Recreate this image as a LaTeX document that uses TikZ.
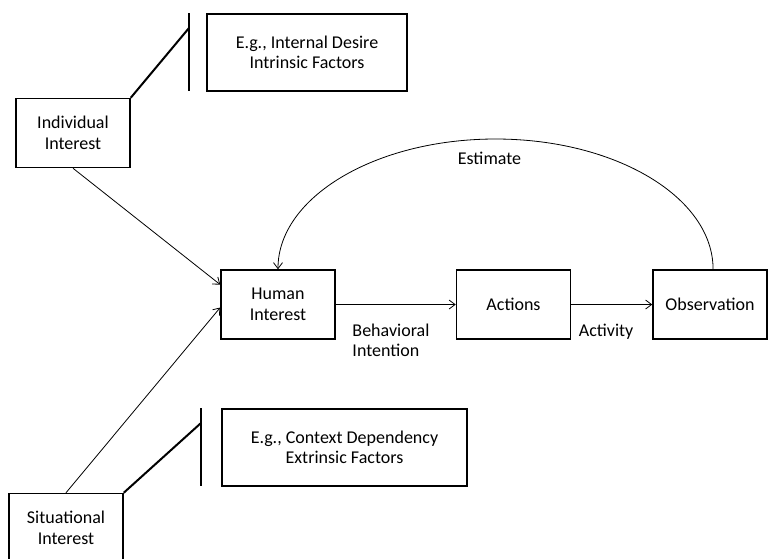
\documentclass[tikz,border=0pt]{standalone}
\usepackage{fontspec}
\setmainfont{Carlito}
\usetikzlibrary{arrows.meta}

\begin{document}
\begin{tikzpicture}[x=1pt,y=-1pt,
    box/.style={shape=rectangle,draw=black,line width=1.5pt,minimum width=114pt,minimum height=69pt,align=center,font=\fontsize{18}{20.5}\selectfont},
    factor/.style={box,anchor=north west,minimum width=0pt,minimum height=77pt,inner xsep=29pt},
    lbl/.style={inner sep=0pt,font=\fontsize{18}{20.5}\selectfont},
    arr/.style={-{Straight Barb[length=6pt,width=9pt]},line width=0.8pt},
    bar/.style={line width=2.8pt},
    tie/.style={line width=2pt}]
        \useasboundingbox (0,0) rectangle (768,558);
        \clip (0,0) rectangle (768,558);

        \node[factor] (intr) at (206,13)     {E.g., Internal Desire\\Intrinsic Factors};
        \node[factor] (extr) at (221,408)    {E.g., Context Dependency\\Extrinsic Factors};
        \node[box] (ind) at (73,133)         {Individual\\Interest};
        \node[box] (sit) at (66,528)         {Situational\\Interest};
        \node[box] (hi) at (278,304.5)       {Human\\Interest};
        \node[box] (act) at (513.5,304.5)    {Actions};
        \node[box] (obs) at (710,304.5)      {Observation};

        \coordinate (intrtop) at (189,13);
        \coordinate (intrbot) at (189,91);
        \coordinate (intrjoin) at (189,28);
        \coordinate (extrtop) at (201,408);
        \coordinate (extrbot) at (201,486);
        \coordinate (extrjoin) at (201,423);
        \coordinate (esttop) at (495.5,139);

	\draw[bar] (intrtop) -- (intrbot);
	\draw[tie] (ind.north east) -- (intrjoin);
	\draw[bar] (extrtop) -- (extrbot);
	\draw[tie] (sit.north east) -- (extrjoin);

	\path[arr] (ind.south) edge (hi.161);
	\path[arr] (sit.north) edge (hi.183);
	\path[arr] (hi) edge node[lbl,align=left,below=19pt,pos=0.46]{Behavioral\\Intention} (act);
	\path[arr] (act) edge node[lbl,below=19pt,pos=0.43]{Activity} (obs);
	\draw[arr] (obs.85) .. controls +(0,-72) and +(120,0) .. (esttop)
	    node[lbl,below=13pt,xshift=-6pt]{Estimate}
	    .. controls +(-120,0) and +(0,-72) .. (hi.north);
\end{tikzpicture}
\end{document}
